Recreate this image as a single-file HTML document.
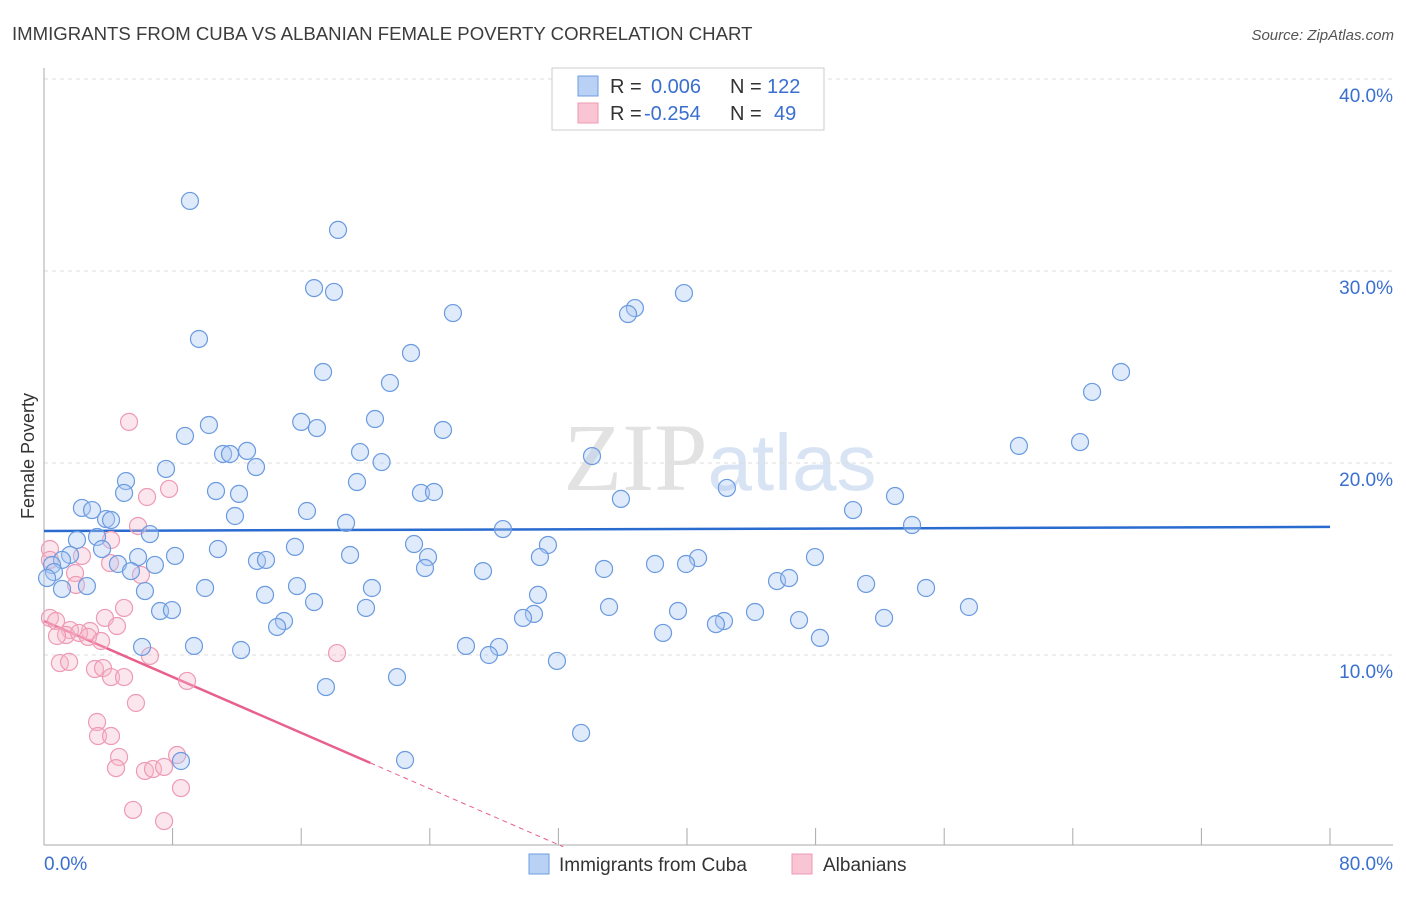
<!DOCTYPE html>
<html><head><meta charset="utf-8"><style>
body{margin:0;background:#fff;font-family:"Liberation Sans",sans-serif;}
svg text{font-family:"Liberation Sans",sans-serif;}
</style></head><body>
<svg id="chart" width="1406" height="892" viewBox="0 0 1406 892" xmlns="http://www.w3.org/2000/svg">
<text x="12" y="40" font-size="18.6" fill="#3c3c3c">IMMIGRANTS FROM CUBA VS ALBANIAN FEMALE POVERTY CORRELATION CHART</text>
<text x="1394" y="40" font-size="15" fill="#555" text-anchor="end" font-style="italic">Source: ZipAtlas.com</text>
<text x="720" y="490" font-size="96" text-anchor="middle" fill="#e2e2e2"><tspan font-family="Liberation Serif">ZIP</tspan><tspan fill="#d8e4f4" font-size="80">atlas</tspan></text>
<text transform="translate(34,456) rotate(-90)" font-size="18" fill="#333" text-anchor="middle">Female Poverty</text>
<g id="grid"></g>
<g id="axes"></g>
<g id="trend"></g>
<g id="pts"></g>
<g>
<rect x="552" y="68" width="272" height="62" fill="#fff" stroke="#ccc"/>
<rect x="578" y="76" width="20" height="20" fill="#b9d1f4" stroke="#6d9de0"/>
<rect x="578" y="103" width="20" height="20" fill="#f9c5d5" stroke="#ec9ab3"/>
<text x="610" y="93" font-size="20" fill="#333">R = </text><text x="651" y="93" font-size="20" fill="#3a6fd0">0.006</text>
<text x="730" y="93" font-size="20" fill="#333">N = </text><text x="767" y="93" font-size="20" fill="#3a6fd0">122</text>
<text x="610" y="120" font-size="20" fill="#333">R = </text><text x="644" y="120" font-size="20" fill="#3a6fd0">-0.254</text>
<text x="730" y="120" font-size="20" fill="#333">N = </text><text x="774" y="120" font-size="20" fill="#3a6fd0">49</text>
</g>
<g>
<rect x="529" y="854" width="20" height="20" fill="#b9d1f4" stroke="#6d9de0"/>
<text x="559" y="871" font-size="19" fill="#333">Immigrants from Cuba</text>
<rect x="792" y="854" width="20" height="20" fill="#f9c5d5" stroke="#ec9ab3"/>
<text x="823" y="871" font-size="19" fill="#333">Albanians</text>
</g>
</svg>
<script>
const yTicks=[10,20,30,40];
const yTickLabels=["10.0%","20.0%","30.0%","40.0%"];
const xTickLabels=["0.0%","80.0%"];
const cubaX=[9.08,18.29,16.8,18.04,39.81,36.76,36.33,25.44,9.64,22.83,17.36,21.52,67.0,65.2,16.0,10.26,20.59,16.98,24.82,8.77,60.65,64.45,19.66,11.14,11.57,12.63,34.09,21.0,7.59,13.19,19.47,5.1,42.48,10.7,12.13,4.98,23.45,24.26,35.89,52.94,2.36,2.99,16.36,50.33,11.88,3.86,4.17,18.79,54.0,28.55,6.59,3.3,2.05,23.02,31.35,15.61,3.61,10.82,1.62,5.85,8.15,19.04,23.89,30.85,40.69,47.96,1.12,13.25,13.81,4.6,6.9,0.5,0.62,0.19,27.31,34.84,38.01,39.94,23.7,5.41,45.6,46.35,51.14,54.87,1.12,2.67,10.02,15.74,20.4,6.28,13.75,30.73,16.8,20.03,7.22,7.96,35.15,39.44,44.23,57.54,30.48,29.8,46.97,52.26,14.93,14.5,42.3,41.8,38.51,48.27,26.25,28.3,27.68,6.1,9.33,12.26,31.91,17.54,21.96,33.41,22.46,8.52];
const cubaY=[33.65,32.14,29.11,28.91,28.85,28.07,27.76,27.81,26.46,25.73,24.74,24.17,24.74,23.7,22.14,21.98,22.29,21.82,21.72,21.41,20.89,21.09,20.57,20.47,20.47,20.63,20.36,20.05,19.69,19.79,19.01,19.06,18.7,18.54,18.39,18.44,18.44,18.49,18.13,18.28,17.66,17.55,17.5,17.55,17.24,17.08,17.03,16.88,16.77,16.56,16.3,16.15,15.99,15.78,15.73,15.63,15.52,15.52,15.21,15.1,15.16,15.21,15.1,15.1,15.05,15.1,14.95,14.9,14.95,14.74,14.69,14.69,14.32,14.01,14.37,14.48,14.74,14.74,14.53,14.37,13.85,14.01,13.7,13.49,13.44,13.59,13.49,13.59,13.49,13.33,13.13,13.13,12.76,12.45,12.29,12.34,12.5,12.29,12.24,12.5,12.14,11.93,11.82,11.93,11.77,11.46,11.77,11.61,11.15,10.89,10.47,10.42,10.0,10.42,10.47,10.26,9.69,8.33,8.85,5.94,4.53,4.48];
const albX=[5.29,6.41,7.78,5.85,4.17,0.37,2.36,0.37,4.11,1.93,6.03,1.99,4.98,0.37,0.75,3.79,4.54,1.62,2.86,1.37,2.18,0.81,2.74,3.55,6.59,0.99,1.56,3.17,3.67,4.17,4.98,8.9,18.23,5.72,3.3,3.36,4.17,4.67,4.48,6.28,6.78,7.47,8.28,8.52,5.54,7.47];
const albY=[22.14,18.23,18.65,16.72,15.99,15.52,15.16,14.95,14.79,14.27,14.17,13.65,12.45,11.93,11.77,11.93,11.51,11.3,11.25,11.04,11.15,10.99,10.94,10.73,9.95,9.58,9.64,9.27,9.32,8.85,8.85,8.65,10.1,7.5,6.51,5.78,5.78,4.69,4.11,3.96,4.06,4.17,4.79,3.07,1.93,1.35];
const cubaTrend=[16.46,16.67];
const albTrend=[11.77,-0.364];
const NS="http://www.w3.org/2000/svg";
const X0=44,X1=1330,YB=847,YS=19.2;
const sx=v=>X0+(X1-X0)*v/80;
const sy=v=>YB-v*YS;
function mk(tag,attrs,parent){const e=document.createElementNS(NS,tag);for(const k in attrs)e.setAttribute(k,attrs[k]);document.getElementById(parent).appendChild(e);return e;}
yTicks.forEach((t,i)=>{
 const l=mk('line',{x1:X0,x2:1393,y1:sy(t),y2:sy(t),stroke:'#ddd','stroke-dasharray':'4,4'},'grid');
 
 
 const tx=mk('text',{x:1393,y:sy(t)+23,'font-size':19,fill:'#3a6fd0','text-anchor':'end'},'grid');
 tx.textContent=yTickLabels[i];
 
 
});
const ax=mk('line',{x1:X0,x2:X0,y1:68,y2:845,stroke:'#aaa'},'axes');


const bx=mk('line',{x1:X0,x2:1393,y1:845,y2:845,stroke:'#aaa'},'axes');


for(let i=1;i<=10;i++){const t=mk('line',{x1:sx(i*8),x2:sx(i*8),y1:828,y2:845,stroke:'#aaa'},'axes');
 
 }
[[0,'start',44],[80,'end',1393]].forEach((d,i)=>{const t=mk('text',{x:d[2],y:870,'font-size':19,fill:'#3a6fd0','text-anchor':d[1]},'axes');t.textContent=xTickLabels[i];
 
 });
function dot(x,y,f,s,n){const c=mk('circle',{cx:sx(x),cy:sy(y),r:8.5,fill:f,stroke:s,'stroke-width':1.2},'pts');
 
 }
albX.forEach((x,i)=>dot(x,albY[i],'rgba(247,183,203,0.35)','#ee9ab4','albanians-point'));
cubaX.forEach((x,i)=>dot(x,cubaY[i],'rgba(170,200,242,0.38)','#6a9ae0','cuba-point'));
const bt=mk('line',{x1:sx(0),x2:sx(80),y1:sy(cubaTrend[0]),y2:sy(cubaTrend[1]),stroke:'#2a6bd0','stroke-width':2.5},'trend');


const af=x=>albTrend[0]+albTrend[1]*x;
const pt=mk('line',{x1:sx(0),x2:sx(20.3),y1:sy(af(0)),y2:sy(af(20.3)),stroke:'#e8608c','stroke-width':2.5},'trend');


const pd=mk('line',{x1:sx(20.3),x2:sx(32.3),y1:sy(af(20.3)),y2:sy(af(32.3)),stroke:'#e8608c','stroke-width':1,'stroke-dasharray':'5,4'},'trend');


</script>
</body></html>
